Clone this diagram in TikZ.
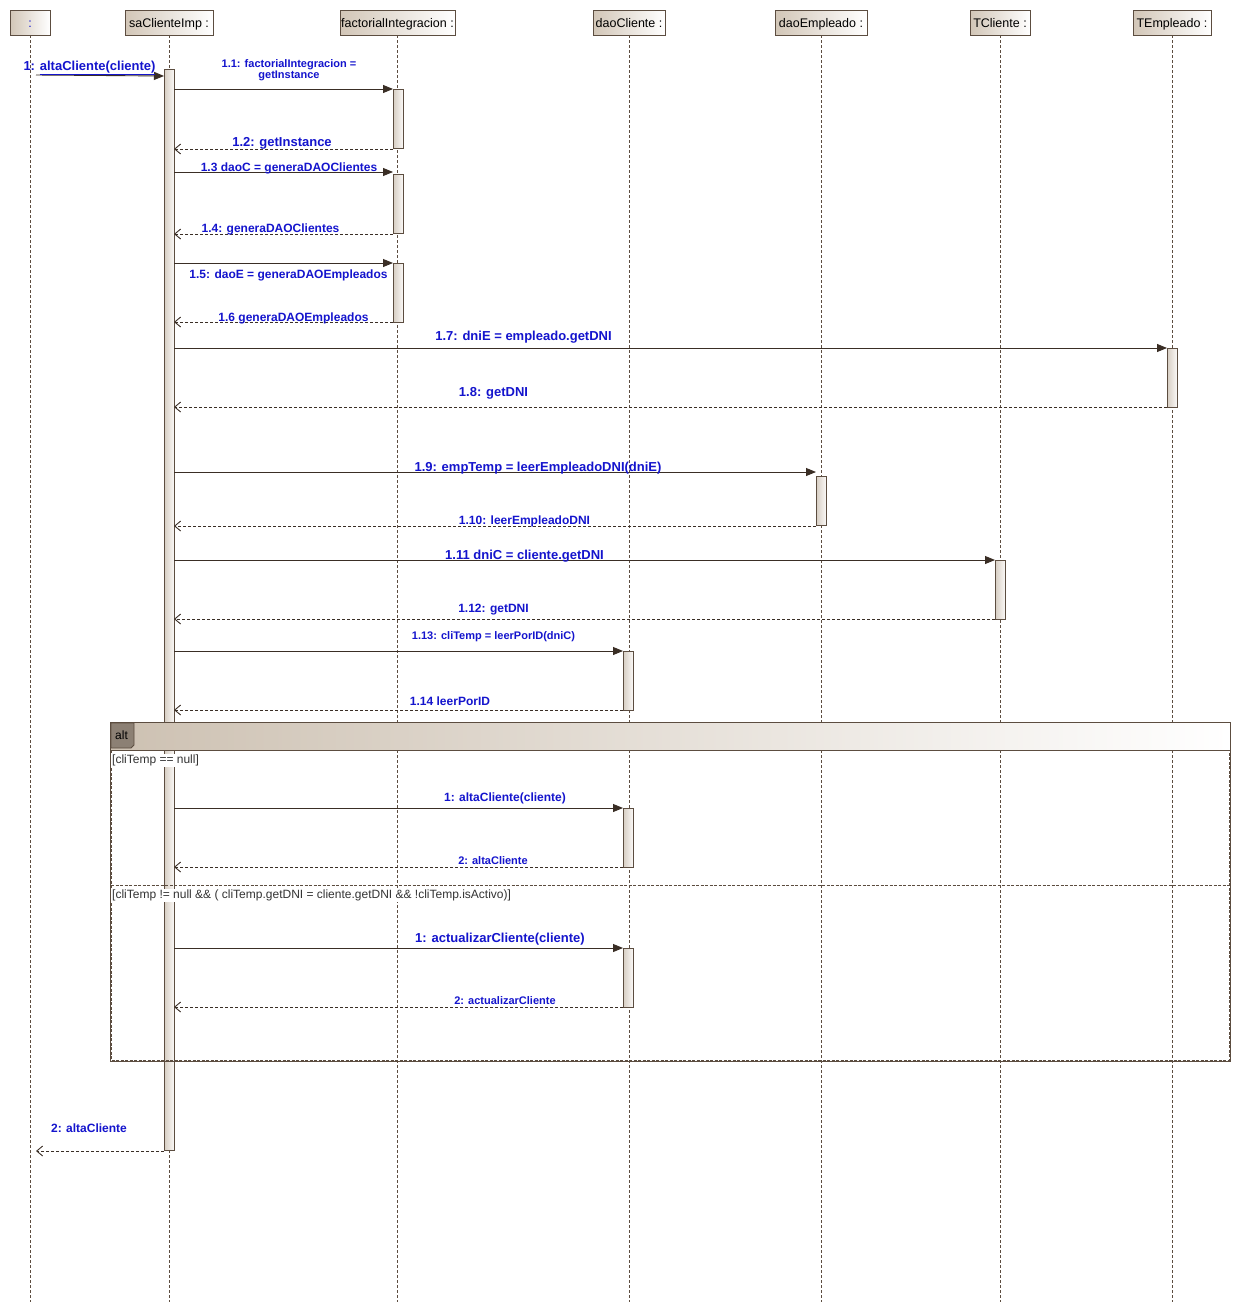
\documentclass[tikz,border=0pt]{standalone}
\usepackage{fontspec}
\setmainfont{Liberation Sans}
\usetikzlibrary{arrows.meta}
\definecolor{lineC}{RGB}{92,77,64}
\definecolor{msgC}{RGB}{58,46,37}
\definecolor{boxL}{RGB}{210,198,183}
\definecolor{barL}{RGB}{214,205,194}
\definecolor{barR}{RGB}{250,248,246}
\definecolor{lblC}{RGB}{20,20,205}
\definecolor{hdrL}{RGB}{205,193,178}
\definecolor{tabC}{RGB}{140,128,116}
\newcommand\fsz[1]{\fontsize{#1}{#1}\selectfont}
\begin{document}
\begin{tikzpicture}[x=1pt,y=-1pt,
  lifebox/.style={draw=lineC, line width=0.9pt, left color=boxL, right color=white, minimum height=25pt, inner sep=1pt, text height=9pt, text depth=0pt, font=\fsz{12.5}},
  lifeline/.style={draw=lineC, line width=0.8pt, dash pattern=on 3pt off 2pt},
  actbar/.style={draw=lineC, line width=0.9pt, left color=barL, right color=barR, minimum width=10pt, inner sep=0pt},
  callmsg/.style={draw=msgC, line width=0.9pt, -{Triangle[length=10pt,width=8pt]}},
  retmsg/.style={draw=msgC, line width=0.9pt, dash pattern=on 3pt off 2pt, -{Straight Barb[length=6pt,width=10pt]}},
  lbl/.style={text=lblC, inner sep=0pt, align=center, yshift=-2pt, font=\bfseries\fsz{12}},
  lblL/.style={lbl, font=\bfseries\fsz{13}},
  lblS/.style={lbl, yshift=2pt, font=\bfseries\fsz{11}},
  guard/.style={text=black!80, fill=white, inner sep=1pt, anchor=west, yshift=-1.5pt, font=\fsz{12}}
]
\useasboundingbox (0,0) rectangle (1241,1312);
\fill[white] (0,0) rectangle (1241,1312);

% lifeline heads
\node[lifebox, minimum width=40pt, text=lblC] (h0) at (30,22.5) {:};
\node[lifebox, minimum width=88pt] (h1) at (169,22.5) {saClienteImp :};
\node[lifebox, minimum width=115pt] (h2) at (397.5,22.5) {factorialIntegracion :};
\node[lifebox, minimum width=72pt] (h3) at (629,22.5) {daoCliente :};
\node[lifebox, minimum width=92pt] (h4) at (821,22.5) {daoEmpleado :};
\node[lifebox, minimum width=60pt] (h5) at (1000,22.5) {TCliente :};
\node[lifebox, minimum width=78pt] (h6) at (1172,22.5) {TEmpleado :};

% lifelines
\foreach \h in {h0,h1,h2,h3,h4,h5,h6}{
  \draw[lifeline] (\h.south) -- ++(0,1267);
}

% activation bars
\node[actbar, minimum height=1081pt] (a0) at (169,609.5) {};
\node[actbar, minimum height=59pt] (a1) at (398,118.5) {};
\node[actbar, minimum height=59pt] (a2) at (398,203.5) {};
\node[actbar, minimum height=59pt] (a3) at (398,292.5) {};
\node[actbar, minimum height=59pt] (a4) at (1172,377.5) {};
\node[actbar, minimum height=49pt] (a5) at (821,500.5) {};
\node[actbar, minimum height=59pt] (a6) at (1000,589.5) {};
\node[actbar, minimum height=59pt] (a7) at (628,680.5) {};

% alt frame
\shade[left color=hdrL, right color=white] (110,722) rectangle (1230,750);
\draw[lineC, line width=0.9pt, dash pattern=on 3pt off 1.5pt] (111,750) rectangle (1229,1060);
\draw[lineC, line width=0.9pt, dash pattern=on 3pt off 1.5pt] (111,885) -- (1229,885);
\draw[lineC, line width=1pt] (110,722) rectangle (1230,1061);
\draw[lineC, line width=0.9pt] (110,750) -- (1230,750);
\draw[lineC, line width=0.8pt, fill=tabC] (111,723) -- (134,723) -- (134,745) -- (131,748) -- (111,748) -- cycle;
\node[inner sep=0pt, font=\fsz{12}] (alt) at (121.5,735) {alt};
\node[guard] (g1) at (111,759) {[cliTemp == null]};
\node[guard] (g2) at (111,894) {[cliTemp != null \&\& ( cliTemp.getDNI = cliente.getDNI \&\& !cliTemp.isActivo)]};

% alt activation bars
\node[actbar, minimum height=59pt] (a8) at (628,837.5) {};
\node[actbar, minimum height=59pt] (a9) at (628,977.5) {};

% message end points
\coordinate (m0s) at (36,75);   \coordinate (m0e) at (164,76);
\coordinate (m1s) at (174,89);  \coordinate (m1e) at (393,89);
\coordinate (m2s) at (393,149); \coordinate (m2e) at (174,149);
\coordinate (m3s) at (174,172); \coordinate (m3e) at (393,172);
\coordinate (m4s) at (393,234); \coordinate (m4e) at (174,234);
\coordinate (m5s) at (174,263); \coordinate (m5e) at (393,263);
\coordinate (m6s) at (393,322); \coordinate (m6e) at (174,322);
\coordinate (m7s) at (174,348); \coordinate (m7e) at (1167,348);
\coordinate (m8s) at (1167,407); \coordinate (m8e) at (174,407);
\coordinate (m9s) at (174,472); \coordinate (m9e) at (816,472);
\coordinate (m10s) at (816,526); \coordinate (m10e) at (174,526);
\coordinate (m11s) at (174,560); \coordinate (m11e) at (995,560);
\coordinate (m12s) at (995,619); \coordinate (m12e) at (174,619);
\coordinate (m13s) at (174,651); \coordinate (m13e) at (623,651);
\coordinate (m14s) at (623,710); \coordinate (m14e) at (174,710);
\coordinate (m15s) at (174,808); \coordinate (m15e) at (623,808);
\coordinate (m16s) at (623,867); \coordinate (m16e) at (174,867);
\coordinate (m17s) at (174,948); \coordinate (m17e) at (623,948);
\coordinate (m18s) at (623,1007); \coordinate (m18e) at (174,1007);
\coordinate (m19s) at (164,1151); \coordinate (m19e) at (36,1151);

% messages
\draw[callmsg] (m0s) -- (m0e);
\foreach \i in {1,3,5,7,9,11,13,15,17}{ \draw[callmsg] (m\i s) -- (m\i e); }
\foreach \i in {2,4,6,8,10,12,14,16,18,19}{ \draw[retmsg] (m\i s) -- (m\i e); }

% labels
\node[lblL] (l0) at (89.5,66) {1: \underline{altaCliente(cliente)}};
\node[lblS] (l1) at (289,70) {1.1: factorialIntegracion =\\getInstance};
\node[lblL] (l2) at (282,141) {1.2: getInstance};
\node[lbl] (l3) at (289,166) {1.3 daoC = generaDAOClientes};
\node[lbl] (l4) at (270.5,227) {1.4: generaDAOClientes};
\node[lbl] (l5) at (288.5,273) {1.5: daoE = generaDAOEmpleados};
\node[lbl] (l6) at (293.5,316) {1.6 generaDAOEmpleados};
\node[lblL] (l7) at (523.5,335) {1.7: dniE = empleado.getDNI};
\node[lblL] (l8) at (493.5,391) {1.8: getDNI};
\node[lblL] (l9) at (538,466) {1.9: empTemp = leerEmpleadoDNI(dniE)};
\node[lbl] (l10) at (524.5,519) {1.10: leerEmpleadoDNI};
\node[lblL] (l11) at (524.5,554) {1.11 dniC = cliente.getDNI};
\node[lbl] (l12) at (493.5,608) {1.12: getDNI};
\node[lblS] (l13) at (493.5,637) {1.13: cliTemp = leerPorID(dniC)};
\node[lbl] (l14) at (450,699) {1.14 leerPorID};
\node[lbl] (l15) at (505,796) {1: altaCliente(cliente)};
\node[lblS] (l16) at (493,861) {2: altaCliente};
\node[lblL] (l17) at (500,937) {1: actualizarCliente(cliente)};
\node[lblS] (l18) at (505,1001) {2: actualizarCliente};
\node[lbl] (l19) at (89,1126) {2: altaCliente};
\end{tikzpicture}
\end{document}
